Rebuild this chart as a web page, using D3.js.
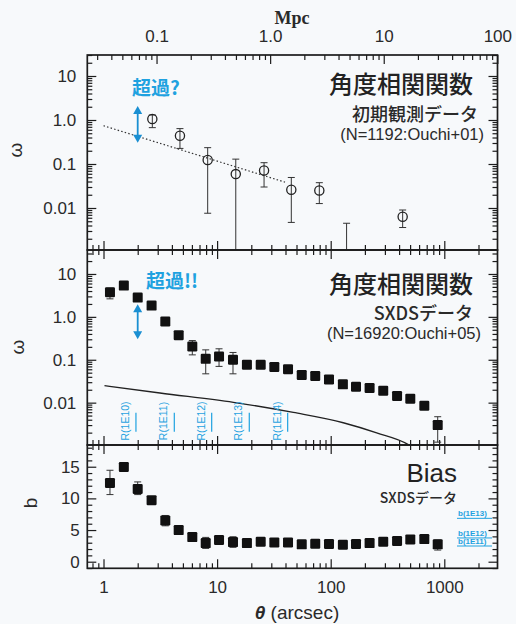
<!DOCTYPE html>
<html>
<head>
<meta charset="utf-8">
<script src="https://cdn.jsdelivr.net/npm/d3@7"></script>
<style>
    body { margin: 0; background: #f7f9fb; }
    svg { display: block; font-family: "Liberation Sans", Arial, sans-serif; }
</style>
</head>
<body>
<div id="chart"></div>
<script>

// ---------- values ----------

// top panel: first observation (Ouchi+01), open circles
let earlyTheta = [2.69, 4.71, 8.26, 14.6, 25.9, 45.0, 79.4, 138, 430];
let earlyOmega = [1.05, 0.44, 0.123, 0.059, 0.071, 0.026, 0.0249, 0.0003, 0.0063];
let earlyHi    = [1.3, 0.637, 0.235, 0.129, 0.107, 0.0494, 0.0376, 0.0045, 0.009];
let earlyLo    = [0.67, 0.226, 0.0076, 0.0001, 0.03, 0.0047, 0.0126, 0.0001, 0.0036];

// power-law fit (dotted), end points
let fitTheta = [1.0, 39.6];
let fitOmega = [0.74, 0.0386];

// middle + bottom panels: SXDS (Ouchi+05), filled squares
let sxdsTheta = [1.14, 1.51, 2.0, 2.65, 3.5, 4.59, 6.05, 7.94, 10.4, 13.8, 18.3, 24.2, 31.9,
                 42.1, 55.6, 73.1, 96.6, 128, 167, 220, 290, 384, 502, 667, 875];
let sxdsOmega = [3.75, 5.35, 2.81, 1.83, 0.78, 0.375, 0.204, 0.105, 0.119, 0.1, 0.0766, 0.0766, 0.0676,
                 0.06, 0.044, 0.0418, 0.0348, 0.0267, 0.0235, 0.022, 0.019, 0.0143, 0.0124, 0.0085, 0.003];
let sxdsOmegaHi = [4.65, null, null, null, null, null, 0.28, 0.17, 0.18, 0.148, null, null, null,
                   null, null, null, null, null, null, null, null, null, null, null, 0.0047];
let sxdsOmegaLo = [2.63, null, null, null, null, null, 0.13, 0.047, 0.07, 0.047, null, null, null,
                   null, null, null, null, null, null, null, null, null, null, null, 0.0012];

let sxdsBias = [12.44, 14.96, 11.5, 9.72, 6.52, 4.99, 3.89, 2.94, 3.42, 3.1, 2.94, 3.15, 3.05,
                3.05, 2.74, 2.84, 2.79, 2.68, 2.79, 2.94, 3.15, 3.26, 3.52, 3.57, 2.74];
let sxdsBiasHi = [14.44, null, 12.6, null, 7.3, null, null, 3.84, null, 3.94, null, null, null,
                  null, null, null, null, null, null, null, null, null, null, null, 3.42];
let sxdsBiasLo = [10.6, null, 10.6, null, 5.67, null, null, 2.1, null, 2.27, null, null, null,
                  null, null, null, null, null, null, null, null, null, null, null, 1.84];

// dark matter correlation (solid curve)
let dmTheta = [1.02, 3.14, 13.9, 46.9, 129, 254, 482, 700];
let dmOmega = [0.025, 0.0168, 0.0102, 0.0059, 0.0034, 0.00197, 0.00105, 0.0005];

// halo size markers R(M) and bias of halos b(M)
let rLabels = ['R(1E10)', 'R(1E11)', 'R(1E12)', 'R(1E13)', 'R(1E14)'];
let rTheta  = [1.93, 4.2, 8.96, 19.2, 41.8];
let bLabels = ['b(1E13)', 'b(1E12)', 'b(1E11)'];
let bValues = [6.85, 3.75, 2.48];

// tick labels
let arcsecTicks = [1, 10, 100, 1000];
let mpcTicks = [0.1, 1, 10, 100];
let mpcTickLabels = ['0.1', '1.0', '10', '100'];
let omegaTicks = [10, 1, 0.1, 0.01];
let omegaTickLabels = ['10', '1.0', '0.1', '0.01'];
let biasTicks = [0, 5, 10, 15];

// ---------- layout ----------
const W = 516, H = 624;
const L = 87.3, R = 497.5;
const blue = '#1fa2e0', arrowBlue = '#1a8fd2', ink = '#1c1c1c', txt = '#2a2a2a';
const jp = '"Noto Sans CJK JP", "Noto Sans", sans-serif';

let svg = d3.select('#chart').append('svg')
    .attr('width', W).attr('height', H);
svg.append('rect').attr('width', W).attr('height', H).attr('fill', '#f7f9fb');

let x = d3.scaleLog().domain([0.72, 2940]).range([L, R]);
let xMpc = d3.scaleLog().domain([0.72 / 29.3, 2940 / 29.3]).range([L, R]);

let yTop = d3.scaleLog().domain([30, 0.00111]).range([55, 250]);
let yMid = d3.scaleLog().domain([36.2, 0.00103]).range([250, 445]);
let yBot = d3.scaleLinear().domain([18.43, -1.04]).range([445, 568.3]);

let isDecade = v => Math.abs(Math.log10(v) - Math.round(Math.log10(v))) < 1e-6;

function styleAxis(g, size) {
    g.attr('color', ink).attr('font-size', size || 17)
        .attr('font-family', '"Liberation Sans", Arial, sans-serif');
    g.select('.domain').remove();
    g.selectAll('line').attr('stroke-width', 1.2);
    g.selectAll('text').attr('fill', txt);
}

// frame + inward ticks for one panel
function drawPanel(id, y, top, bottom, opt) {
    let g = svg.append('g').attr('class', 'panel-' + id);

    let yMinor = opt.log ? y.ticks().filter(v => !isDecade(v)) : d3.range(-1, 19).filter(v => v % 5 !== 0);
    let xMinor = x.ticks().filter(v => !isDecade(v));

    // left
    g.append('g').attr('transform', `translate(${L},0)`)
        .call(d3.axisLeft(y).tickValues(opt.yTicks).tickSize(-9).tickPadding(opt.pad)
            .tickFormat((d, i) => opt.yLabels[i]))
        .call(styleAxis);
    g.append('g').attr('transform', `translate(${L},0)`)
        .call(d3.axisLeft(y).tickValues(yMinor).tickSize(-5).tickFormat(''))
        .call(styleAxis);
    // right
    g.append('g').attr('transform', `translate(${R},0)`)
        .call(d3.axisRight(y).tickValues(opt.yTicks).tickSize(-9).tickFormat(''))
        .call(styleAxis);
    g.append('g').attr('transform', `translate(${R},0)`)
        .call(d3.axisRight(y).tickValues(yMinor).tickSize(-5).tickFormat(''))
        .call(styleAxis);

    // bottom
    g.append('g').attr('transform', `translate(0,${bottom})`)
        .call(d3.axisBottom(x).tickValues(arcsecTicks).tickSize(-9).tickPadding(13)
            .tickFormat(opt.xLabels ? d3.format('d') : ''))
        .call(styleAxis);
    g.append('g').attr('transform', `translate(0,${bottom})`)
        .call(d3.axisBottom(x).tickValues(xMinor).tickSize(-5).tickFormat(''))
        .call(styleAxis);

    // top (Mpc on the first panel)
    if (opt.mpc) {
        let mMinor = xMpc.ticks().filter(v => !isDecade(v));
        g.append('g').attr('transform', `translate(0,${top})`)
            .call(d3.axisTop(xMpc).tickValues(mpcTicks).tickSize(-9).tickPadding(13)
                .tickFormat((d, i) => mpcTickLabels[i]))
            .call(styleAxis);
        g.append('g').attr('transform', `translate(0,${top})`)
            .call(d3.axisTop(xMpc).tickValues(mMinor).tickSize(-5).tickFormat(''))
            .call(styleAxis);
    } else {
        g.append('g').attr('transform', `translate(0,${top})`)
            .call(d3.axisTop(x).tickValues(arcsecTicks).tickSize(-9).tickFormat(''))
            .call(styleAxis);
        g.append('g').attr('transform', `translate(0,${top})`)
            .call(d3.axisTop(x).tickValues(xMinor).tickSize(-5).tickFormat(''))
            .call(styleAxis);
    }

    g.append('rect')
        .attr('x', L).attr('y', top).attr('width', R - L).attr('height', bottom - top)
        .attr('fill', 'none').attr('stroke', ink).attr('stroke-width', 1.7);

    svg.append('clipPath').attr('id', 'clip-' + id)
        .append('rect').attr('x', L).attr('y', top).attr('width', R - L).attr('height', bottom - top);

    return svg.append('g').attr('clip-path', `url(#clip-${id})`);
}

function errorBars(g, y, xs, hi, lo) {
    xs.forEach((t, i) => {
        if (hi[i] == null) return;
        let cx = x(t);
        g.append('line').attr('x1', cx).attr('x2', cx).attr('y1', y(hi[i])).attr('y2', y(lo[i]))
            .attr('stroke', '#333').attr('stroke-width', 1);
        [hi[i], lo[i]].forEach(v => {
            g.append('line').attr('x1', cx - 3.5).attr('x2', cx + 3.5).attr('y1', y(v)).attr('y2', y(v))
                .attr('stroke', '#333').attr('stroke-width', 1);
        });
    });
}

function squares(g, y, xs, vs) {
    g.selectAll('rect.pt').data(xs).enter().append('rect')
        .attr('class', 'pt')
        .attr('x', (d, i) => x(d) - 5).attr('y', (d, i) => y(vs[i]) - 5)
        .attr('width', 10).attr('height', 10).attr('rx', 1.2)
        .attr('fill', '#111');
}

function doubleArrow(g, cx, y1, y2) {
    g.append('line').attr('x1', cx).attr('x2', cx).attr('y1', y1 + 6).attr('y2', y2 - 6)
        .attr('stroke', arrowBlue).attr('stroke-width', 1.8);
    g.append('path').attr('d', `M${cx},${y1} l-4.5,8 h9 z`).attr('fill', arrowBlue);
    g.append('path').attr('d', `M${cx},${y2} l-4.5,-8 h9 z`).attr('fill', arrowBlue);
}

function label(text, xPos, yPos, size, opt) {
    opt = opt || {};
    return svg.append('text')
        .attr('x', xPos).attr('y', yPos)
        .attr('dominant-baseline', 'central')
        .attr('text-anchor', opt.anchor || 'end')
        .attr('font-family', opt.family || jp)
        .attr('font-size', size)
        .attr('font-weight', opt.weight || 'normal')
        .attr('fill', opt.fill || txt)
        .text(text);
}

// ---------- top panel ----------
let gTop = drawPanel('top', yTop, 55, 250, {
    log: true, yTicks: omegaTicks, yLabels: omegaTickLabels, pad: 11, mpc: true
});

gTop.append('path')
    .attr('d', d3.line().x(d => x(d)).y((d, i) => yTop(fitOmega[i]))(fitTheta))
    .attr('fill', 'none').attr('stroke', '#333').attr('stroke-width', 1.2)
    .attr('stroke-dasharray', '1.5,2.2');

errorBars(gTop, yTop, earlyTheta, earlyHi, earlyLo);
gTop.selectAll('circle').data(earlyTheta).enter().append('circle')
    .attr('cx', d => x(d)).attr('cy', (d, i) => yTop(earlyOmega[i]))
    .attr('r', 4.6)
    .attr('fill', 'none').attr('stroke', '#222').attr('stroke-width', 1.3);

doubleArrow(gTop, x(2.0), yTop(2.08), yTop(0.305));

label('超過?', 132, 86, 19, { anchor: 'start', weight: 'bold', fill: blue });
label('角度相関関数', 473, 82, 24, { weight: 500, fill: '#222' });
label('初期観測データ', 478, 113, 18, { weight: 500 });
label('(N=1192:Ouchi+01)', 484, 134, 16.5, { family: '"Liberation Sans", Arial, sans-serif' });

// ---------- middle panel ----------
let gMid = drawPanel('mid', yMid, 250, 445, {
    log: true, yTicks: omegaTicks, yLabels: omegaTickLabels, pad: 11
});

gMid.append('path')
    .attr('d', d3.line().curve(d3.curveMonotoneX).x(d => x(d)).y((d, i) => yMid(dmOmega[i]))(dmTheta))
    .attr('fill', 'none').attr('stroke', '#222').attr('stroke-width', 1.3);

rTheta.forEach((t, i) => {
    let cx = x(t);
    gMid.append('line').attr('x1', cx).attr('x2', cx)
        .attr('y1', yMid(0.0058)).attr('y2', yMid(0.00211))
        .attr('stroke', blue).attr('stroke-width', 1.2);
    gMid.append('text')
        .attr('transform', `translate(${cx - 11},${yMid(0.00374)}) rotate(-90)`)
        .attr('text-anchor', 'middle').attr('dominant-baseline', 'central')
        .attr('font-size', 10.5).attr('fill', blue)
        .text(rLabels[i]);
});

errorBars(gMid, yMid, sxdsTheta, sxdsOmegaHi, sxdsOmegaLo);
squares(gMid, yMid, sxdsTheta, sxdsOmega);

doubleArrow(gMid, x(2.0), yMid(1.97), yMid(0.30));

label('超過!!', 146, 279, 19, { anchor: 'start', weight: 'bold', fill: blue });
label('角度相関関数', 473, 282, 24, { weight: 500, fill: '#222' });
label('SXDSデータ', 473, 312, 18, { weight: 500 });
label('(N=16920:Ouchi+05)', 481, 333, 16.5, { family: '"Liberation Sans", Arial, sans-serif' });

// ---------- bottom panel ----------
let gBot = drawPanel('bot', yBot, 445, 568.3, {
    log: false, yTicks: biasTicks, yLabels: biasTicks.map(String), pad: 7.5, xLabels: true
});

errorBars(gBot, yBot, sxdsTheta, sxdsBiasHi, sxdsBiasLo);
squares(gBot, yBot, sxdsTheta, sxdsBias);

bLabels.forEach((s, i) => {
    let yy = yBot(bValues[i]);
    gBot.append('line').attr('x1', 457).attr('x2', 492).attr('y1', yy).attr('y2', yy)
        .attr('stroke', blue).attr('stroke-width', 1);
    gBot.append('text').attr('x', 458).attr('y', yy - 2.2)
        .attr('font-size', 8).attr('font-weight', 'bold').attr('fill', blue)
        .text(s);
});

label('Bias', 457, 473, 26, { family: '"Liberation Sans", Arial, sans-serif', fill: '#222' });
label('SXDSデータ', 457, 497, 14, { weight: 500 });

// ---------- axis titles ----------
svg.append('text').attr('x', 292).attr('y', 24).attr('text-anchor', 'middle')
    .attr('font-family', '"Liberation Serif", serif').attr('font-weight', 'bold')
    .attr('font-size', 18).attr('fill', txt).text('Mpc');

let xt = svg.append('text').attr('x', 297).attr('y', 619).attr('text-anchor', 'middle')
    .attr('font-size', 19).attr('fill', txt);
xt.append('tspan').attr('font-style', 'italic').attr('font-weight', 'bold').text('θ');
xt.append('tspan').text(' (arcsec)');

[['ω', 15, 150], ['ω', 17, 347], ['b', 30, 503]].forEach(d => {
    svg.append('text')
        .attr('transform', `translate(${d[1]},${d[2]}) rotate(-90)`)
        .attr('text-anchor', 'middle').attr('dominant-baseline', 'central')
        .attr('font-size', 19).attr('fill', txt)
        .text(d[0]);
});

</script>
</body>
</html>
